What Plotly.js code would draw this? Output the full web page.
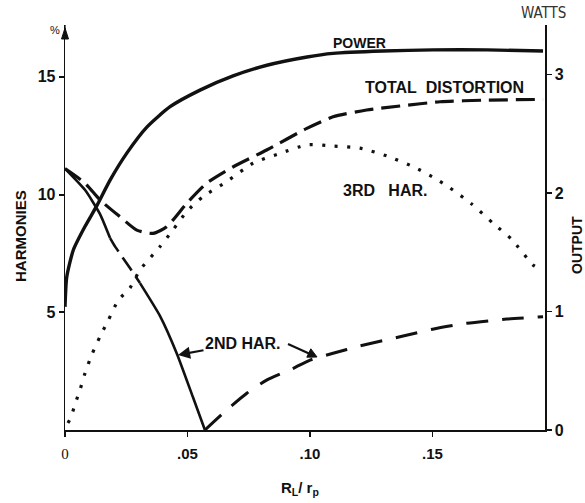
<!DOCTYPE html>
<html>
<head>
<meta charset="utf-8">
<script src="https://cdn.plot.ly/plotly-3.0.1.min.js"></script>
<style>html,body{margin:0;padding:0;background:#fff;}#chart{width:585px;height:503px;}</style>
</head>
<body>
<div id="chart"></div>
<script>
// ---- data (x = R_L / r_p) ----
const powerX = [0, 0.0007, 0.0034, 0.0082, 0.0129, 0.0184, 0.0253, 0.0335, 0.0429, 0.0551, 0.0686, 0.0824, 0.0988, 0.1094, 0.1298, 0.1502, 0.1722, 0.1951];
const powerW = [1.04, 1.29, 1.52, 1.72, 1.89, 2.11, 2.34, 2.56, 2.73, 2.87, 2.99, 3.08, 3.15, 3.18, 3.20, 3.21, 3.21, 3.20];

const totalX = [0, 0.0082, 0.0143, 0.0224, 0.0293, 0.036, 0.0415, 0.0497, 0.0578, 0.0687, 0.0823, 0.0987, 0.1094, 0.1231, 0.1367, 0.1531, 0.1721, 0.1951];
const totalPct = [11.1, 10.48, 9.77, 9.06, 8.49, 8.35, 8.63, 9.63, 10.48, 11.18, 11.89, 12.81, 13.30, 13.59, 13.76, 13.94, 14.01, 14.04];

const second1X = [0, 0.0082, 0.0143, 0.0184, 0.0204, 0.0265, 0.0306, 0.0388, 0.0457, 0.0522, 0.0571];
const second1Pct = [11.1, 10.19, 9.17, 8.15, 7.8, 6.88, 6.24, 4.84, 3.23, 1.40, 0];

const second2X = [0.0571, 0.066, 0.0742, 0.0823, 0.0932, 0.1, 0.1094, 0.1204, 0.1367, 0.15, 0.1639, 0.1803, 0.1951];
const second2Pct = [0, 0.85, 1.56, 2.12, 2.62, 2.97, 3.26, 3.57, 3.96, 4.28, 4.53, 4.71, 4.81];

const thirdX = [0.0012, 0.0024, 0.0041, 0.0061, 0.0082, 0.0109, 0.0143, 0.0177, 0.0218, 0.0265, 0.0306, 0.0388, 0.0441, 0.0497, 0.0563, 0.066, 0.0767, 0.0878, 0.0987, 0.1094, 0.1204, 0.1313, 0.142, 0.151, 0.1563, 0.166, 0.1747, 0.1823, 0.191, 0.1939];
const thirdPct = [0.3, 0.53, 1.1, 1.7, 2.42, 3.19, 3.97, 4.67, 5.52, 6.03, 6.8, 7.79, 8.5, 9.28, 9.91, 10.55, 11.33, 11.75, 12.11, 12.06, 11.97, 11.64, 11.19, 10.69, 10.34, 9.6, 8.78, 8.1, 7.01, 6.84];

const xTickVals = [0, 0.05, 0.10, 0.15];
const xTickText = ['<span style="font-family:Liberation Serif;font-weight:normal">0</span>', '.05', '.10', '.15'];
const leftTickVals = [5, 10, 15];
const rightTickVals = [0, 1, 2, 3];

// ---- chart ----
const INK = '#111';
const bold = 'Liberation Sans';

function seg(xs, ys, a, b) { return [xs.slice(a, b + 1), ys.slice(a, b + 1)]; }
const s1a = seg(second1X, second1Pct, 0, 3);
const s1b = seg(second1X, second1Pct, 3, 6);
const s1c = seg(second1X, second1Pct, 6, second1X.length - 1);

const traces = [
  {x: powerX, y: powerW, yaxis: 'y2', mode: 'lines', name: 'POWER',
   line: {color: INK, width: 3.4, shape: 'spline', smoothing: 0.6}},
  {x: totalX, y: totalPct, mode: 'lines', name: 'TOTAL DISTORTION',
   line: {color: INK, width: 3.2, dash: '19px,8px', shape: 'spline', smoothing: 0.6}},
  {x: s1a[0], y: s1a[1], mode: 'lines', name: '2ND HAR.',
   line: {color: INK, width: 2.6, shape: 'spline', smoothing: 0.5}},
  {x: s1b[0], y: s1b[1], mode: 'lines', name: '2ND HAR.',
   line: {color: INK, width: 2.6, dash: '16px,7px', shape: 'spline', smoothing: 0.5}},
  {x: s1c[0], y: s1c[1], mode: 'lines', name: '2ND HAR.',
   line: {color: INK, width: 2.6, shape: 'spline', smoothing: 0.5}},
  {x: second2X, y: second2Pct, mode: 'lines', name: '2ND HAR.',
   line: {color: INK, width: 3, dash: '22px,14px', shape: 'spline', smoothing: 0.6}},
  {x: thirdX, y: thirdPct, mode: 'lines', name: '3RD HAR.',
   line: {color: INK, width: 3.2, dash: '3px,9.5px', shape: 'spline', smoothing: 0.6}}
];

function px(x) { return (x - 65) / 480; }
function py(y) { return (430 - y) / 405; }

const ann = [
  {text: 'POWER', x: px(359), y: py(43), font: {size: 14}},
  {text: 'TOTAL&nbsp;&nbsp;DISTORTION', x: px(444), y: py(87), font: {size: 16}},
  {text: '3RD&nbsp;&nbsp;&nbsp;HAR.', x: px(385), y: py(190), font: {size: 16}},
  {text: 'WATTS', x: px(543), y: py(13), font: {size: 15, family: 'DejaVu Sans Condensed, DejaVu Sans', color: '#333', weight: 'normal'}},
  {text: 'OUTPUT', x: px(577), y: py(245), textangle: -90, font: {size: 14}},
  {text: 'HARMONIES', x: px(20), y: py(236), textangle: -90, font: {size: 15}},
  {text: '%', x: px(55), y: py(30), font: {size: 11, weight: 'normal'}},
  {text: 'R<sub>L</sub>/ r<sub>p</sub>', x: px(300), y: py(488), font: {size: 15}}
].map(a => Object.assign({xref: 'paper', yref: 'paper', showarrow: false, xanchor: 'center', yanchor: 'middle'},
  a, {font: Object.assign({family: bold, color: INK, weight: 'bold'}, a.font)}));

// 2ND HAR. label with its left arrow
ann.push({xref: 'paper', yref: 'paper', x: px(178), y: py(355), text: '2ND HAR.',
  font: {family: bold, size: 16, color: INK, weight: 'bold'},
  showarrow: true, arrowhead: 2, arrowsize: 1.1, arrowwidth: 2.2, arrowcolor: INK,
  ax: 65, ay: -12});

// second arrow of the 2ND HAR. label and the arrow tip of the left axis, as shapes
function pathOf(pts) { return 'M' + pts.map(p => px(p[0]) + ',' + py(p[1])).join('L') + 'Z'; }
const shapes = [
  {type: 'line', xref: 'paper', yref: 'paper', x0: px(288), y0: py(344), x1: px(309), y1: py(353.5),
   line: {color: INK, width: 2.2}},
  {type: 'path', xref: 'paper', yref: 'paper', path: pathOf([[317, 357], [306.8, 357.2], [310.8, 348.8]]),
   fillcolor: INK, line: {color: INK, width: 1}},
  {type: 'path', xref: 'paper', yref: 'paper', path: pathOf([[65, 28], [61.5, 39], [68.5, 39]]),
   fillcolor: INK, line: {color: INK, width: 1}},
  {type: 'line', xref: 'paper', yref: 'paper', x0: 0, y0: 1, x1: 0, y1: py(36),
   line: {color: INK, width: 1.3}}
];

const layout = {
  width: 585, height: 503,
  margin: {l: 65, r: 40, t: 25, b: 73},
  paper_bgcolor: '#fff', plot_bgcolor: '#fff',
  showlegend: false,
  font: {family: bold, color: INK},
  xaxis: {range: [0, 0.1959], showgrid: false, zeroline: false,
    showline: true, linecolor: INK, linewidth: 2,
    tickvals: xTickVals, ticktext: xTickText, ticks: 'outside', ticklen: 5, tickwidth: 1.5, tickcolor: INK,
    ticklabelstandoff: 4,
    tickfont: {family: bold, size: 15, color: INK, weight: 'bold'}},
  yaxis: {range: [0, 17.2], showgrid: false, zeroline: false,
    showline: true, linecolor: INK, linewidth: 1.3,
    tickvals: leftTickVals, ticks: 'outside', ticklen: 5, tickwidth: 2, tickcolor: INK,
    tickfont: {family: bold, size: 16, color: INK, weight: 'bold'}},
  yaxis2: {range: [0, 3.42], overlaying: 'y', side: 'right', anchor: 'x',
    showgrid: false, zeroline: false,
    showline: true, linecolor: INK, linewidth: 1.6,
    tickvals: rightTickVals, ticks: 'outside', ticklen: 5, tickwidth: 1.5, tickcolor: INK,
    tickfont: {family: bold, size: 16, color: INK, weight: 'bold'}},
  annotations: ann,
  shapes: shapes
};

Plotly.newPlot('chart', traces, layout, {displayModeBar: false, staticPlot: true});
</script>
</body>
</html>
